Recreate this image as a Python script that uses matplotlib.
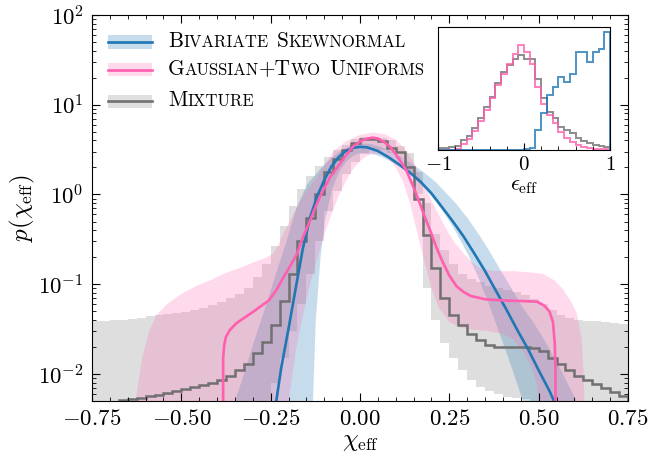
import numpy as np
import matplotlib
matplotlib.use("Agg")
import matplotlib.pyplot as plt
from matplotlib.patches import Rectangle
from matplotlib.lines import Line2D
from matplotlib.offsetbox import TextArea, HPacker, AnnotationBbox

plt.rcParams["font.family"] = "serif"
plt.rcParams["font.serif"] = ["cmr10", "DejaVu Serif"]
plt.rcParams["mathtext.fontset"] = "cm"
plt.rcParams["axes.formatter.use_mathtext"] = True
plt.rcParams["axes.unicode_minus"] = True

# ---- data -------------------------------------------------------------
labels = ["Bivariate Skewnormal", "Gaussian+Two Uniforms", "Mixture"]

# Bivariate skewnormal: median curve
bsn_x = [-0.236, -0.22, -0.20, -0.18, -0.16, -0.14, -0.12, -0.10, -0.08, -0.06,
         -0.04, -0.02, 0.0, 0.02, 0.05, 0.08, 0.11, 0.14, 0.17, 0.20, 0.23,
         0.26, 0.29, 0.32, 0.35, 0.38, 0.41, 0.44, 0.47, 0.50, 0.53, 0.546]
bsn_med = [0.0045, 0.012, 0.032, 0.09, 0.25, 0.55, 0.95, 1.45, 2.05, 2.6,
           3.05, 3.3, 3.4, 3.35, 3.05, 2.6, 2.15, 1.75, 1.38, 1.03, 0.72,
           0.50, 0.34, 0.22, 0.14, 0.085, 0.052, 0.031, 0.019, 0.011, 0.0065, 0.0047]
# Bivariate skewnormal: 90% band
bsn_band_x = [-0.36, -0.33, -0.30, -0.27, -0.24, -0.21, -0.18, -0.15, -0.134, -0.125,
              -0.112, -0.10, -0.08, -0.06, -0.04, -0.02, 0.0, 0.03, 0.06, 0.09,
              0.12, 0.15, 0.18, 0.21, 0.24, 0.27, 0.30, 0.33, 0.36, 0.39,
              0.42, 0.455, 0.48, 0.51, 0.54, 0.57, 0.60, 0.62]
bsn_hi = [0.004, 0.009, 0.022, 0.05, 0.12, 0.28, 0.7, 1.3, 1.55, 1.7,
          1.95, 2.2, 2.6, 3.0, 3.35, 3.6, 3.75, 3.7, 3.4, 3.0,
          2.55, 2.15, 1.75, 1.4, 1.05, 0.78, 0.55, 0.37, 0.24, 0.15,
          0.095, 0.055, 0.04, 0.026, 0.016, 0.0095, 0.0055, 0.004]
bsn_lo = [1e-4, 1e-4, 1e-4, 1e-4, 1e-4, 1e-4, 1e-4, 1e-4, 0.004, 0.04,
          0.2, 0.5, 1.15, 1.8, 2.35, 2.75, 2.95, 2.9, 2.65, 2.3,
          1.95, 1.55, 1.18, 0.85, 0.58, 0.37, 0.22, 0.12, 0.06, 0.028,
          0.013, 0.005, 1e-4, 1e-4, 1e-4, 1e-4, 1e-4, 1e-4]

# Gaussian + two uniforms: median curve
gtu_x = [-0.383, -0.383, -0.380, -0.375, -0.364, -0.345, -0.325, -0.30, -0.28, -0.255,
         -0.235, -0.215, -0.195, -0.176, -0.16, -0.14, -0.12, -0.104, -0.084, -0.064,
         -0.04, -0.02, 0.0, 0.02, 0.036, 0.05, 0.065, 0.084, 0.10, 0.115,
         0.13, 0.15, 0.168, 0.18, 0.196, 0.215, 0.232, 0.25, 0.27, 0.29,
         0.31, 0.35, 0.40, 0.45, 0.495, 0.515, 0.53, 0.54, 0.545, 0.547, 0.548]
gtu_med = [1e-4, 0.015, 0.021, 0.026, 0.031, 0.037, 0.042, 0.049, 0.056, 0.066,
           0.085, 0.118, 0.16, 0.22, 0.33, 0.51, 0.8, 1.1, 1.55, 2.0,
           2.7, 3.4, 3.9, 4.2, 4.3, 4.2, 3.9, 3.4, 2.8, 2.3,
           1.85, 1.2, 0.79, 0.58, 0.40, 0.25, 0.175, 0.125, 0.095, 0.082,
           0.074, 0.068, 0.066, 0.065, 0.064, 0.058, 0.05, 0.038, 0.022, 0.012, 1e-4]
# Gaussian + two uniforms: 90% band (upper and lower edges)
gtu_hi_x = [-0.64, -0.625, -0.61, -0.59, -0.57, -0.54, -0.50, -0.46, -0.42, -0.383,
            -0.34, -0.29, -0.26, -0.243, -0.23, -0.215, -0.195, -0.176, -0.15, -0.12,
            -0.10, -0.075, -0.04, 0.0, 0.036, 0.07, 0.103, 0.125, 0.148, 0.17,
            0.196, 0.22, 0.243, 0.265, 0.29, 0.31, 0.336, 0.38, 0.43, 0.48,
            0.513, 0.545, 0.568, 0.59, 0.607, 0.62, 0.625, 0.628, 0.63]
gtu_hi = [1e-4, 0.006, 0.015, 0.03, 0.045, 0.06, 0.078, 0.095, 0.11, 0.13,
          0.15, 0.18, 0.20, 0.22, 0.27, 0.36, 0.52, 0.72, 1.1, 1.55,
          2.1, 3.0, 3.9, 4.6, 4.9, 4.7, 4.0, 3.2, 2.4, 1.5,
          0.93, 0.6, 0.40, 0.29, 0.22, 0.18, 0.15, 0.14, 0.14, 0.135,
          0.13, 0.11, 0.088, 0.065, 0.047, 0.025, 0.012, 0.005, 1e-4]
gtu_lo_x = [-0.21, -0.20, -0.18, -0.16, -0.14, -0.12, -0.10, -0.08, -0.06, -0.04,
            -0.02, 0.0, 0.02, 0.04, 0.06, 0.08, 0.10, 0.12, 0.14, 0.16,
            0.18, 0.20, 0.22, 0.25, 0.28, 0.32, 0.36, 0.40, 0.43, 0.456,
            0.48, 0.495, 0.50, 0.505]
gtu_lo = [1e-4, 0.005, 0.018, 0.045, 0.10, 0.19, 0.36, 0.6, 0.95, 1.4,
          1.9, 2.35, 2.7, 2.85, 2.8, 2.5, 2.0, 1.4, 0.8, 0.38,
          0.18, 0.09, 0.055, 0.038, 0.033, 0.031, 0.030, 0.028, 0.024, 0.018,
          0.012, 0.0075, 0.005, 1e-4]

# Mixture: histogram on 60 bins in [-0.75, 0.75]
mix_med = [0.004, 0.0045, 0.0049, 0.0051, 0.0052, 0.0054, 0.0057, 0.0059, 0.0062, 0.0065,
           0.0068, 0.0071, 0.0075, 0.0079, 0.0085, 0.0095, 0.011, 0.013, 0.017, 0.023,
           0.035, 0.065, 0.13, 0.30, 0.55, 1.0, 1.8, 2.5, 3.1, 3.7,
           4.1, 4.2, 3.9, 3.3, 3.0, 2.0, 0.9, 0.35, 0.15, 0.07,
           0.045, 0.035, 0.028, 0.024, 0.021, 0.020, 0.020, 0.020, 0.020, 0.0195,
           0.018, 0.015, 0.013, 0.011, 0.0095, 0.0085, 0.0078, 0.007, 0.0063, 0.0057]
mix_hi = [0.039, 0.039, 0.040, 0.040, 0.041, 0.042, 0.044, 0.046, 0.047, 0.048,
          0.049, 0.051, 0.054, 0.058, 0.063, 0.070, 0.078, 0.09, 0.12, 0.17,
          0.27, 0.45, 0.75, 1.15, 1.6, 2.1, 2.6, 3.1, 3.6, 4.1,
          4.4, 4.4, 4.3, 4.0, 3.5, 2.9, 1.8, 0.8, 0.36, 0.24,
          0.17, 0.13, 0.115, 0.105, 0.095, 0.09, 0.087, 0.083, 0.075, 0.068,
          0.060, 0.052, 0.046, 0.042, 0.040, 0.039, 0.039, 0.038, 0.037, 0.036]
mix_lo = [1e-4, 1e-4, 1e-4, 1e-4, 1e-4, 1e-4, 1e-4, 1e-4, 1e-4, 1e-4,
          1e-4, 1e-4, 1e-4, 1e-4, 1e-4, 1e-4, 1e-4, 1e-4, 1e-4, 1e-4,
          0.008, 0.015, 0.03, 0.06, 0.13, 0.30, 0.65, 1.1, 1.7, 2.3,
          2.8, 3.1, 3.1, 2.9, 2.5, 1.8, 1.0, 0.09, 0.04, 0.022,
          0.015, 0.011, 0.0085, 0.0072, 0.0065, 0.006, 0.0056, 0.0054, 0.0052, 0.005,
          1e-4, 1e-4, 1e-4, 1e-4, 1e-4, 1e-4, 1e-4, 1e-4, 1e-4, 1e-4]

# Inset: epsilon_eff histograms, 30 bins on [-1, 1] (heights in axis fraction)
eps_bsn = [0, 0, 0, 0, 0, 0, 0, 0, 0, 0,
           0, 0, 0, 0, 0, 0.005, 0.019, 0.162, 0.297, 0.446,
           0.514, 0.595, 0.554, 0.614, 0.797, 0.797, 0.716, 0.797, 0.824, 0.959]
eps_gtu = [0, 0, 0.003, 0.008, 0.046, 0.089, 0.154, 0.235, 0.324, 0.419,
           0.527, 0.614, 0.703, 0.784, 0.857, 0.797, 0.703, 0.514, 0.378, 0.284,
           0.216, 0.149, 0.100, 0.068, 0.041, 0.022, 0.014, 0.011, 0.008, 0.008]
eps_mix = [0.019, 0.019, 0.024, 0.035, 0.081, 0.116, 0.176, 0.257, 0.351, 0.432,
           0.541, 0.635, 0.689, 0.743, 0.770, 0.743, 0.743, 0.581, 0.419, 0.311,
           0.257, 0.189, 0.162, 0.135, 0.095, 0.073, 0.054, 0.041, 0.032, 0.027]

BLUE = "#1f77b4"
PINK = "#ff5fae"
GREY = "#707070"

# ---- figure -----------------------------------------------------------
fig = plt.figure(figsize=(6.62, 4.58), dpi=100)
ax = fig.add_axes([92 / 662, 1 - 401 / 458, 536 / 662, 386 / 458])

mix_edges = np.linspace(-0.75, 0.75, len(mix_med) + 1)
ax.stairs(mix_hi, mix_edges, baseline=mix_lo, fill=True, color="#808080", alpha=0.26, lw=0)
ax.fill_between(bsn_band_x, bsn_lo, bsn_hi, color=BLUE, alpha=0.25, lw=0)
# pink band: upper edge left to right, then lower edge back
ax.fill(list(gtu_hi_x) + list(gtu_lo_x[::-1]), list(gtu_hi) + list(gtu_lo[::-1]),
        color="#ff69b4", alpha=0.25, lw=0)

ax.stairs(mix_med, mix_edges, color=GREY, lw=1.8)
ax.plot(bsn_x, bsn_med, color=BLUE, lw=1.9)
ax.plot(gtu_x, gtu_med, color=PINK, lw=1.9)

ax.set_yscale("log")
ax.set_xlim(-0.75, 0.75)
ax.set_ylim(5e-3, 1e2)
ax.set_xticks([-0.75, -0.5, -0.25, 0.0, 0.25, 0.5, 0.75])
ax.xaxis.set_major_formatter(matplotlib.ticker.FuncFormatter(lambda v, p: r"$%.2f$" % v))
ax.xaxis.set_minor_locator(matplotlib.ticker.MultipleLocator(0.05))
ax.tick_params(which="both", direction="in", top=True, right=True, labelsize=16.5)
ax.tick_params(which="major", length=6, pad=6)
ax.tick_params(which="minor", length=3)
ax.set_xlabel(r"$\chi_{\rm eff}$", fontsize=18, labelpad=1)
ax.set_ylabel(r"$p(\chi_{\rm eff})$", fontsize=18, labelpad=1)

# ---- small-caps legend drawn by hand ---------------------------------
BIG, SMALL = 15.3, 12


def small_caps(label):
    words = []
    for word in label.split(" "):
        runs = []
        for ch in word:
            big = not ch.islower()
            if runs and runs[-1][0] == big:
                runs[-1][1] += ch
            else:
                runs.append([big, ch])
        boxes = [TextArea(s.upper(), textprops=dict(fontsize=BIG if b else SMALL))
                 for b, s in runs]
        words.append(HPacker(children=boxes, sep=0, pad=0, align="baseline"))
    return HPacker(children=words, sep=6, pad=0, align="baseline")


rows_y = [0.930, 0.858, 0.777]
colors = [(BLUE, BLUE), ("#ff69b4", PINK), ("#808080", GREY)]
for lab, yy, (band_c, line_c) in zip(labels, rows_y, colors):
    ax.add_patch(Rectangle((0.030, yy - 0.017), 0.082, 0.034, transform=ax.transAxes,
                           color=band_c, alpha=0.25, lw=0))
    ax.add_line(Line2D([0.030, 0.112], [yy, yy], transform=ax.transAxes,
                       color=line_c, lw=1.9))
    ab = AnnotationBbox(small_caps(lab), (0.142, yy), xycoords="axes fraction",
                        box_alignment=(0, 0.45), frameon=False, pad=0)
    ax.add_artist(ab)

# ---- inset ------------------------------------------------------------
axi = fig.add_axes([438 / 662, 1 - 150 / 458, 172 / 662, 123 / 458])
eps_edges = np.linspace(-1, 1, len(eps_bsn) + 1)
axi.stairs(eps_mix, eps_edges, color=GREY, lw=1.4, alpha=0.8)
axi.stairs(eps_gtu, eps_edges, color=PINK, lw=1.4, alpha=0.8)
axi.stairs(eps_bsn, eps_edges, color=BLUE, lw=1.4, alpha=0.8)
axi.set_xlim(-1, 1)
axi.set_ylim(0, 1)
axi.set_yticks([])
axi.set_xticks([-1, 0, 1])
axi.xaxis.set_minor_locator(matplotlib.ticker.MultipleLocator(0.2))
axi.tick_params(which="both", direction="in", labelsize=15, top=False)
axi.tick_params(which="major", length=5, pad=4)
axi.tick_params(which="minor", length=3)
axi.set_xlabel(r"$\epsilon_{\rm eff}$", fontsize=16, labelpad=2)

fig.savefig("out.png", dpi=100)
